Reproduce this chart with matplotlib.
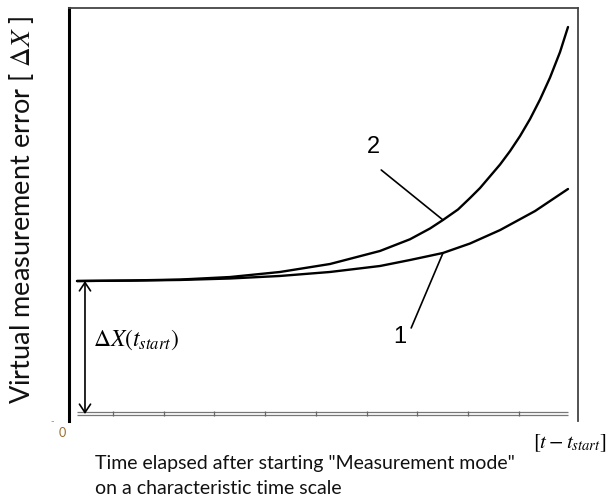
import matplotlib.pyplot as plt
import numpy as np

plt.rcParams['mathtext.fontset'] = 'stix'
plt.rcParams['font.family'] = ['Lato', 'DejaVu Sans']

# time in characteristic units, error in units of dX(t_start)
t_curve1 = [0.296, 1.340, 2.325, 3.310, 4.296, 5.281, 6.266, 6.857, 7.251, 7.507, 8.039, 8.631,
            9.320, 9.970]
err_curve1 = [1.000, 1.003, 1.008, 1.019, 1.038, 1.068, 1.113, 1.158, 1.190, 1.211, 1.282, 1.383,
              1.526, 1.692]

t_curve2 = [0.296, 1.340, 2.325, 3.310, 4.296, 5.281, 6.266, 6.857, 7.251, 7.507, 7.803, 8.039,
            8.236, 8.631, 8.828, 9.025, 9.222, 9.419, 9.616, 9.813, 9.970]
err_curve2 = [1.000, 1.004, 1.011, 1.030, 1.068, 1.128, 1.226, 1.314, 1.395, 1.459, 1.538, 1.624,
              1.699, 1.876, 1.977, 2.090, 2.218, 2.365, 2.530, 2.722, 2.910]

tick_pos = [1, 2, 3, 4, 5, 6, 7, 8, 9]
t_start = 0.296
t_end = 9.970
err_start = 1.0

W, H = 609, 500
fig = plt.figure(figsize=(W / 100, H / 100), dpi=100)
ax = fig.add_axes([69 / W, 1 - 421 / H, (578 - 69) / W, (421 - 8) / H])
ax.set_xlim(0.138, 10.167)
ax.set_ylim(-0.0526, 3.053)

for s in ['top', 'right']:
    ax.spines[s].set_color('#444444')
    ax.spines[s].set_linewidth(1.3)
ax.spines['left'].set_color('black')
ax.spines['left'].set_linewidth(2.2)
ax.spines['bottom'].set_visible(False)
ax.set_xticks([])
ax.set_yticks([])

# double time axis with small ticks
ax.hlines([0.012, -0.008], t_start, t_end, color='#777777', lw=0.9)
ax.vlines(tick_pos, -0.018, 0.022, color='#666666', lw=0.9)

ax.plot(t_curve1, err_curve1, color='black', lw=1.7, solid_capstyle='round', solid_joinstyle='round')
ax.plot(t_curve2, err_curve2, color='black', lw=1.7, solid_capstyle='round', solid_joinstyle='round')

# dX(t_start) arrow
ax.annotate('', xy=(0.453, 0.0), xytext=(0.453, err_start),
            arrowprops=dict(arrowstyle='<->,head_length=0.6,head_width=0.4',
                            lw=1.2, color='black', shrinkA=0, shrinkB=0))
ax.text(0.61, 0.556, r'$\Delta X(t_{start})$', fontsize=17, ha='left', va='center')

# curve labels with leader lines
ax.annotate('', xy=(t_curve2[9], err_curve2[9]), xytext=(6.29, 1.835),
            arrowprops=dict(arrowstyle='-', lw=1.2, color='black', shrinkA=0, shrinkB=0))
ax.annotate('', xy=(t_curve1[9], err_curve1[9]), xytext=(6.88, 0.647),
            arrowprops=dict(arrowstyle='-', lw=1.2, color='black', shrinkA=0, shrinkB=0))
ax.text(6.13, 2.007, '2', fontsize=17, family='Liberation Sans', ha='center', va='center')
ax.text(6.66, 0.579, '1', fontsize=17, family='Liberation Sans', ha='center', va='center')

# outside labels
fig.text(62 / W, 1 - 433 / H, '0', fontsize=9, color='#9a6a2a', ha='center', va='center')
fig.text(52 / W, 1 - 422 / H, '-', fontsize=7, color='#888888', ha='center', va='center')
fig.text(22 / W, 1 - 210 / H, r'Virtual measurement error [ $\Delta X$ ]', fontsize=19.5,
         rotation=90, ha='center', va='center', color='#111111')
fig.text(570 / W, 1 - 443 / H, r'$[t - t_{start}]$', fontsize=15, ha='center', va='center')
fig.text(95 / W, 1 - 464 / H, 'Time elapsed after starting "Measurement mode"', fontsize=14,
         ha='left', va='center', color='#111111')
fig.text(95 / W, 1 - 488 / H, 'on a characteristic time scale', fontsize=14,
         ha='left', va='center', color='#111111')

fig.savefig('out.png', dpi=100)
